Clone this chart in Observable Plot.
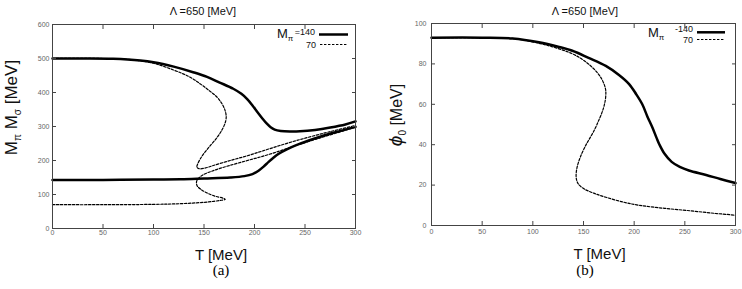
<!DOCTYPE html>
<html><head><meta charset="utf-8">
<script src="https://cdn.jsdelivr.net/npm/d3@7"></script>
<script src="https://cdn.jsdelivr.net/npm/@observablehq/plot@0.6"></script>
<style>
body{margin:0;background:#fff;}
#wrap{position:relative;width:742px;height:289px;overflow:hidden;background:#fff;}
.panel{position:absolute;top:0;}
#over{position:absolute;left:0;top:0;}
</style></head><body><div id="wrap"></div>
<script>
// ---- tick values ----
const tempTicks = [0, 50, 100, 150, 200, 250, 300];
const massTicks = [0, 100, 200, 300, 400, 500, 600];
const phiTicks = [0, 20, 40, 60, 80, 100];

// ---- panel (a): masses [T, M] ----
const sigma140 = [[0,500],[30,500],[60,499],[87,494],[100,489],[120,476],[140,459],[153,446],[165,430],[179,411],[187,396],[193,380],[198,362],[203,342],[208,323],[212,309],[216,298],[220,291],[226,287],[235,285.5],[245,286],[260,290],[275,297],[290,306],[300,315]];
const pion140 = [[0,143],[50,143],[100,144],[127,144.5],[150,147],[176,150],[190,154],[198,160],[204,170],[209,182],[214,196],[219,209],[224,220],[232,233],[242,246],[253,258],[265,270],[280,283],[300,299]];
const sigma70 = [[0,500],[50,500],[80,496],[100,486],[120,466],[135,447],[146,426],[155,406],[163,386],[168,366],[171,346],[172,328],[171,311],[168,291],[163,268],[156,243],[150,221],[146,203],[143.5,188],[143,180],[145,176],[150,177],[160,186],[176,200],[193,214],[209,229],[225,244],[242,259],[258,272],[275,285],[300,303]];
const pion70 = [[0,70],[50,70],[100,71],[127,73],[150,77],[160,80],[167,83],[171,85.5],[169,89],[160,96],[152,106],[146.5,116],[143.5,124],[142.6,131],[143,141],[148,156],[160,171],[175,185],[193,200],[210,214],[226,229],[242,245],[259,261],[280,280],[300,298]];

// ---- panel (b): condensate [T, phi0] ----
const phi140 = [[0,93],[50,93],[80,92.6],[106,90.7],[125,88.5],[139,86.5],[155,83],[172,79],[185,74.5],[195,70],[202,65],[208,60],[213,54],[218,48.5],[222,43.5],[225,40],[230,35.5],[237,31.5],[245,29],[254,27.2],[271,25],[285,23],[300,21]];
const phi70 = [[0,93],[50,93],[80,92.6],[106,90.2],[125,87.6],[139,85],[148,82.5],[156,79.5],[163,76],[168,72.5],[171,69],[172,66.5],[171.5,62],[169,57],[165,52],[161,47.5],[156,43],[152,39.5],[147,34],[144,29.5],[142.8,26],[143,23],[145,20.5],[150,18.3],[160,16],[172,14],[190,11.5],[205,10],[230,8.5],[255,7.3],[280,6],[300,5.1]];

// ---- texts ----
const titleText = "Λ =650 [MeV]";
const xLabelText = "T [MeV]";
const legendValues = ["140", "70"];

const dash = "2.4,1.6";
const solid = {stroke: "#000", strokeWidth: 2.5, curve: "catmull-rom"};
const dashed = {stroke: "#000", strokeWidth: 1.2, strokeDasharray: dash, curve: "catmull-rom"};
const xy = {x: d => d[0], y: d => d[1]};

function frameAxes(xt, yt, padX, padY) {
  return [
    Plot.frame({stroke: "#444"}),
    Plot.axisX({ticks: xt, tickSize: -4, tickPadding: padX, label: null, stroke: "#444"}),
    Plot.axisX({anchor: "top", ticks: xt, tickSize: -4, tickFormat: () => "", label: null, stroke: "#444"}),
    Plot.axisY({ticks: yt, tickSize: -4, tickPadding: padY, label: null, stroke: "#444"}),
    Plot.axisY({anchor: "right", ticks: yt, tickSize: -4, tickFormat: () => "", label: null, stroke: "#444"})
  ];
}

const styleObj = {fontFamily: "'Liberation Sans', Arial, sans-serif", fontSize: "7px", color: "#666", background: "transparent", overflow: "visible"};

const plotA = Plot.plot({
  width: 371, height: 289,
  marginLeft: 52, marginRight: 16, marginTop: 24, marginBottom: 61,
  x: {domain: [0, 300]},
  y: {domain: [0, 600]},
  style: styleObj,
  marks: [
    Plot.line(pion70, {...xy, ...dashed}),
    Plot.line(sigma70, {...xy, ...dashed}),
    Plot.line(pion140, {...xy, ...solid}),
    Plot.line(sigma140, {...xy, ...solid}),
    ...frameAxes(tempTicks, massTicks, 6, 7)
  ]
});
const plotB = Plot.plot({
  width: 371, height: 289,
  marginLeft: 60, marginRight: 7, marginTop: 23, marginBottom: 64,
  x: {domain: [0, 300]},
  y: {domain: [0, 100]},
  style: styleObj,
  marks: [
    Plot.line(phi70, {...xy, ...dashed}),
    Plot.line(phi140, {...xy, ...solid}),
    ...frameAxes(tempTicks, phiTicks, 8, 9)
  ]
});

const wrap = document.getElementById("wrap");
plotA.classList.add("panel"); plotA.style.left = "0px";
plotB.classList.add("panel"); plotB.style.left = "371px";
wrap.appendChild(plotA);
wrap.appendChild(plotB);

// ---- overlay: titles, axis labels, panel letters, legends ----
const ns = "http://www.w3.org/2000/svg";
const over = document.createElementNS(ns, "svg");
over.setAttribute("id", "over");
over.setAttribute("width", 742);
over.setAttribute("height", 289);
wrap.appendChild(over);
const sans = "'Liberation Sans', Arial, sans-serif";
const serif = "'Liberation Serif', 'Times New Roman', serif";
function txt(html, attrs) {
  const t = document.createElementNS(ns, "text");
  for (const k in attrs) t.setAttribute(k, attrs[k]);
  t.innerHTML = html;
  over.appendChild(t);
  return t;
}
function ln(x1, y1, x2, y2, w, d) {
  const l = document.createElementNS(ns, "line");
  l.setAttribute("x1", x1); l.setAttribute("y1", y1);
  l.setAttribute("x2", x2); l.setAttribute("y2", y2);
  l.setAttribute("stroke", "#000"); l.setAttribute("stroke-width", w);
  if (d) l.setAttribute("stroke-dasharray", d);
  over.appendChild(l);
}
// titles
txt(titleText, {x: 203, y: 15, "text-anchor": "middle", "font-family": sans, "font-size": 11, fill: "#111"});
txt(titleText, {x: 585, y: 15, "text-anchor": "middle", "font-family": sans, "font-size": 11, fill: "#111"});
// x labels
txt(xLabelText, {x: 221, y: 260, "text-anchor": "middle", "font-family": sans, "font-size": 15, fill: "#111"});
txt(xLabelText, {x: 599.5, y: 259, "text-anchor": "middle", "font-family": sans, "font-size": 15, fill: "#111"});
// panel letters
txt("(a)", {x: 221, y: 275, "text-anchor": "middle", "font-family": serif, "font-size": 15});
txt("(b)", {x: 585, y: 275, "text-anchor": "middle", "font-family": serif, "font-size": 15});
// y labels
txt('M<tspan font-size="10" dy="4">π</tspan><tspan dy="-4"> M</tspan><tspan font-size="10" dy="4">σ</tspan><tspan dy="-4"> [MeV]</tspan>',
  {transform: "translate(17,107.5) rotate(-90)", "text-anchor": "middle", "font-family": sans, "font-size": 17, fill: "#111"});
txt('<tspan font-style="italic" font-size="19">ϕ</tspan><tspan font-size="10" dy="4">0</tspan><tspan dy="-4"> [MeV]</tspan>',
  {transform: "translate(401.5,115) rotate(-90)", "text-anchor": "middle", "font-family": sans, "font-size": 16, fill: "#111"});
// legend (a)
txt('M<tspan font-size="8" dy="3">π</tspan>', {x: 277, y: 38.3, "font-family": sans, "font-size": 13, fill: "#111"});
txt("=" + legendValues[0], {x: 315, y: 34.5, "text-anchor": "end", "font-family": sans, "font-size": 9, fill: "#111"});
txt(legendValues[1], {x: 316, y: 47.5, "text-anchor": "end", "font-family": sans, "font-size": 9, fill: "#111"});
ln(319, 34.5, 348, 34.5, 2.5);
ln(320, 44.5, 348, 44.5, 1.2, dash);
// legend (b)
txt('M<tspan font-size="8" dy="3">π</tspan>', {x: 648, y: 36.5, "font-family": sans, "font-size": 13, fill: "#111"});
txt("-" + legendValues[0], {x: 693, y: 32, "text-anchor": "end", "font-family": sans, "font-size": 9, fill: "#111"});
txt(legendValues[1], {x: 693, y: 43, "text-anchor": "end", "font-family": sans, "font-size": 9, fill: "#111"});
ln(697, 32.3, 725, 32.3, 2.5);
ln(697, 39.5, 725, 39.5, 1.2, dash);
</script></body></html>
